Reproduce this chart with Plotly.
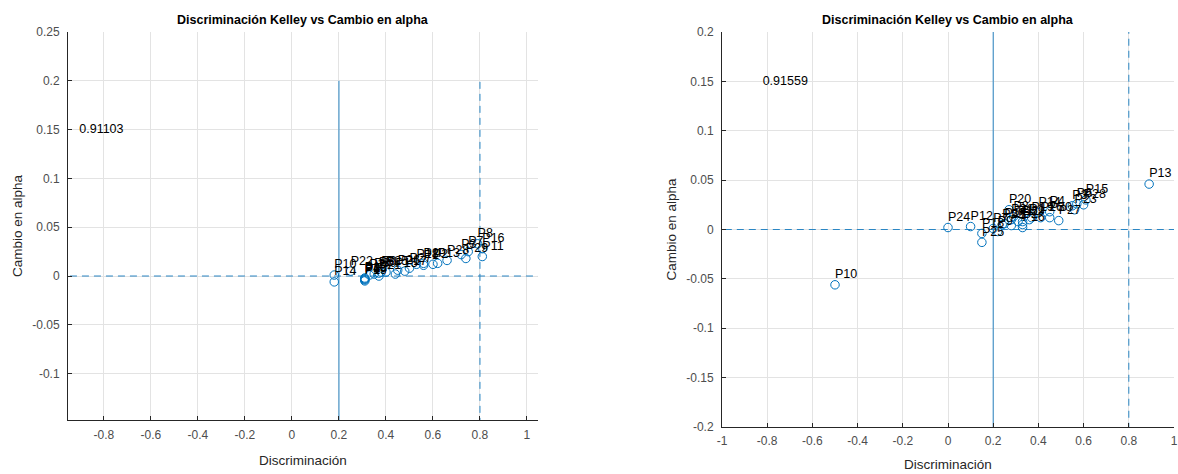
import plotly.graph_objects as go

# ---------------- data ----------------
labels_left = ["P%d" % i for i in range(1, 31)]
disc_left = [0.56, 0.60, 0.72, 0.31, 0.37, 0.31, 0.75, 0.79, 0.38, 0.18,
             0.81, 0.31, 0.62, 0.18, 0.44, 0.81, 0.48, 0.53, 0.31, 0.56,
             0.37, 0.25, 0.31, 0.33, 0.40, 0.45, 0.50, 0.66, 0.74, 0.35]
alpha_left = [0.011, 0.012, 0.022, -0.003, 0.003, -0.004, 0.025, 0.033, 0.004, 0.001,
              0.020, -0.002, 0.013, -0.006, 0.002, 0.028, 0.005, 0.012, -0.005, 0.013,
              0.000, 0.005, -0.003, 0.001, 0.004, 0.006, 0.008, 0.016, 0.018, 0.002]

labels_right = ["P%d" % i for i in range(1, 31)]
disc_right = [0.36, 0.33, 0.55, 0.45, 0.28, 0.57, 0.20, 0.29, 0.22, -0.50,
              0.31, 0.10, 0.89, 0.40, 0.61, 0.33, 0.25, 0.15, 0.37, 0.27,
              0.28, 0.24, 0.56, 0.00, 0.15, 0.41, 0.49, 0.60, 0.33, 0.45]
alpha_right = [0.010, 0.005, 0.024, 0.018, 0.004, 0.026, 0.001, 0.013, -0.002, -0.056,
               0.008, 0.003, 0.046, 0.017, 0.030, 0.002, 0.006, -0.004, 0.012, 0.020,
               0.010, 0.005, 0.020, 0.002, -0.013, 0.012, 0.009, 0.025, 0.008, 0.012]

alpha_total_left = "0.91103"
alpha_total_right = "0.91559"

xticks_left = [-0.8, -0.6, -0.4, -0.2, 0, 0.2, 0.4, 0.6, 0.8, 1]
xticks_left_text = ["-0.8", "-0.6", "-0.4", "-0.2", "0", "0.2", "0.4", "0.6", "0.8", "1"]
yticks_left = [-0.1, -0.05, 0, 0.05, 0.1, 0.15, 0.2, 0.25]
yticks_left_text = ["-0.1", "-0.05", "0", "0.05", "0.1", "0.15", "0.2", "0.25"]
xticks_right = [-1, -0.8, -0.6, -0.4, -0.2, 0, 0.2, 0.4, 0.6, 0.8, 1]
xticks_right_text = ["-1", "-0.8", "-0.6", "-0.4", "-0.2", "0", "0.2", "0.4", "0.6", "0.8", "1"]
yticks_right = [-0.2, -0.15, -0.1, -0.05, 0, 0.05, 0.1, 0.15, 0.2]
yticks_right_text = ["-0.2", "-0.15", "-0.1", "-0.05", "0", "0.05", "0.1", "0.15", "0.2"]

title_text = "Discriminación Kelley vs Cambio en alpha"
xlabel = "Discriminación"
ylabel = "Cambio en alpha"

# ---------------- style ----------------
BLUE = "#0072BD"
LINEBLUE = "#2a86c4"
FONT = "Liberation Sans, Arial, sans-serif"
AXC = "#262626"
GRID = "#e3e3e3"
DASH = "7px,5px"
W, H = 1178, 474

fig = go.Figure()

def add_panel(xs, ys, labs, xa, ya, text_x, text_val, vtop):
    fig.add_trace(go.Scatter(x=[0.2, 0.2], y=[-0.3, vtop], mode="lines",
                             line=dict(color=LINEBLUE, width=1), xaxis=xa, yaxis=ya,
                             hoverinfo="skip", showlegend=False))
    fig.add_trace(go.Scatter(x=[0.8, 0.8], y=[-0.3, vtop], mode="lines",
                             line=dict(color=LINEBLUE, width=1, dash=DASH), xaxis=xa, yaxis=ya,
                             hoverinfo="skip", showlegend=False))
    fig.add_trace(go.Scatter(x=[-1.2, 1.2], y=[0, 0], mode="lines",
                             line=dict(color=LINEBLUE, width=1, dash=DASH), xaxis=xa, yaxis=ya,
                             hoverinfo="skip", showlegend=False))
    fig.add_trace(go.Scatter(x=xs, y=ys, mode="markers",
                             marker=dict(symbol="circle-open", size=8.5,
                                         color=BLUE, line=dict(width=1, color=BLUE)),
                             xaxis=xa, yaxis=ya, showlegend=False))
    fig.add_trace(go.Scatter(x=xs, y=[v + 0.01 for v in ys], mode="text",
                             text=labs, textposition="middle right",
                             textfont=dict(family=FONT, size=12.5, color="#000000"),
                             xaxis=xa, yaxis=ya, showlegend=False, cliponaxis=False))
    fig.add_trace(go.Scatter(x=[text_x], y=[0.15], mode="text",
                             text=[text_val], textposition="middle right",
                             textfont=dict(family=FONT, size=12.5, color="#000000"),
                             xaxis=xa, yaxis=ya, showlegend=False))

add_panel(disc_left, alpha_left, labels_left, "x", "y", -0.905, alpha_total_left, 0.2)
add_panel(disc_right, alpha_right, labels_right, "x2", "y2", -0.82, alpha_total_right, 0.2)

def axis_common():
    return dict(showgrid=True, gridcolor=GRID, gridwidth=1, zeroline=False,
                showline=True, linecolor=AXC, linewidth=1, mirror=False,
                ticks="inside", ticklen=4, tickcolor=AXC, automargin=False,
                tickfont=dict(family=FONT, size=12, color="#4d4d4d"),
                title_font=dict(family=FONT, size=13.5, color="#262626"))

xl = axis_common(); xl.update(domain=[68 / W, 538 / W], range=[-0.953, 1.047],
                              tickvals=xticks_left, ticktext=xticks_left_text,
                              ticklabelstandoff=4,
                              anchor="y", title=dict(text=xlabel, standoff=14))
yl = axis_common(); yl.update(domain=[1 - 420 / H, 1 - 32 / H], range=[-0.1475, 0.25],
                              tickvals=yticks_left, ticktext=yticks_left_text,
                              ticklabelstandoff=5,
                              anchor="x", title=dict(text=ylabel, standoff=6))
xr = axis_common(); xr.update(domain=[722 / W, 1174 / W], range=[-1, 1],
                              tickvals=xticks_right, ticktext=xticks_right_text,
                              ticklabelstandoff=3,
                              anchor="y2", title=dict(text=xlabel, standoff=12))
yr = axis_common(); yr.update(domain=[1 - 427 / H, 1 - 32 / H], range=[-0.2, 0.2],
                              tickvals=yticks_right, ticktext=yticks_right_text,
                              ticklabelstandoff=5,
                              anchor="x2", title=dict(text=ylabel, standoff=6))

fig.update_layout(
    width=W, height=H,
    margin=dict(l=0, r=0, t=0, b=0),
    paper_bgcolor="white", plot_bgcolor="white",
    xaxis=xl, yaxis=yl, xaxis2=xr, yaxis2=yr,
    showlegend=False,
    annotations=[
        dict(text="<b>%s</b>" % title_text, x=(68 + 538) / 2 / W, y=1 - 20 / H,
             xref="paper", yref="paper", showarrow=False, xanchor="center", yanchor="middle",
             font=dict(family=FONT, size=12.5, color="#000000")),
        dict(text="<b>%s</b>" % title_text, x=(722 + 1174) / 2 / W, y=1 - 20 / H,
             xref="paper", yref="paper", showarrow=False, xanchor="center", yanchor="middle",
             font=dict(family=FONT, size=12.5, color="#000000")),
    ],
)

fig.write_html("out.html", config={"displayModeBar": False},
               post_script="document.body.style.margin='0';document.body.style.overflow='hidden';")
